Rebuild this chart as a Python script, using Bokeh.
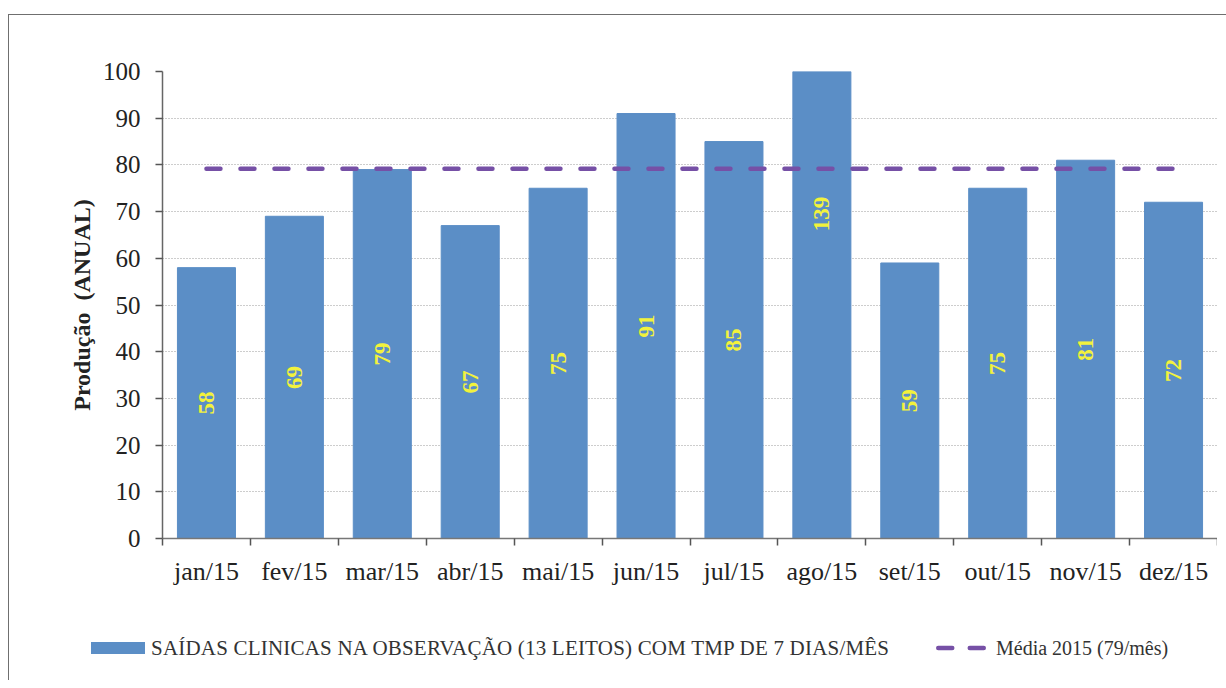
from bokeh.plotting import figure
from bokeh.layouts import column
from bokeh.models import (Range1d, FixedTicker, SingleIntervalTicker, ColumnDataSource, Div)
from bokeh.core.properties import value
from bokeh.embed import file_html
from bokeh.resources import INLINE
import math

# ---- data ----
months = ["jan/15", "fev/15", "mar/15", "abr/15", "mai/15", "jun/15",
          "jul/15", "ago/15", "set/15", "out/15", "nov/15", "dez/15"]
saidas = [58, 69, 79, 67, 75, 91, 85, 139, 59, 75, 81, 72]
media_label = "Média 2015 (79/mês)"
bar_label = "SAÍDAS CLINICAS NA OBSERVAÇÃO (13 LEITOS) COM TMP DE 7 DIAS/MÊS"
y_title = "Produção\u00a0 (ANUAL)"

idx = list(range(len(months)))
media = sum(saidas) / len(saidas)

SERIF = "Liberation Serif"
BAR = "#5b8ec6"
LINE = "#7650a6"
W = 1208

src = ColumnDataSource(dict(x=idx, top=saidas, ly=[v / 2 for v in saidas],
                            txt=[str(v) for v in saidas]))

p = figure(width=W, height=585, output_backend="svg", toolbar_location=None,
           x_range=Range1d(-0.5, len(months) - 0.5), y_range=Range1d(0, 100),
           min_border_left=153, min_border_right=0, min_border_top=56,
           min_border_bottom=62)
p.outline_line_color = None
p.background_fill_color = "white"
p.border_fill_color = "white"

bars = p.vbar(x="x", top="top", width=0.66, source=src, fill_color=BAR,
              line_color=BAR, line_width=1)
p.text(x="x", y="ly", text="txt", source=src, angle=math.pi / 2,
       text_align="center", text_baseline="middle",
       text_font=value(SERIF), text_font_style="bold", text_font_size="23px",
       text_color="#f2f23c")
p.line(x=[idx[0], idx[-1]], y=[media, media], line_color=LINE, line_width=4.5,
       line_dash="14 20", line_cap="round")

# axes
xa = p.xaxis[0]
xa.ticker = FixedTicker(ticks=idx, minor_ticks=[i - 0.5 for i in range(len(months) + 1)])
xa.major_label_overrides = {i: m for i, m in zip(idx, months)}
xa.major_tick_line_color = None
xa.minor_tick_in = 0
xa.minor_tick_out = 7
xa.minor_tick_line_color = "#555"
xa.minor_tick_line_width = 1.5
xa.axis_line_color = "#777"
xa.axis_line_width = 1.5
xa.major_label_text_font = SERIF
xa.major_label_text_font_size = "26px"
xa.major_label_text_color = "#222"
xa.major_label_standoff = 11

ya = p.yaxis[0]
ya.ticker = SingleIntervalTicker(interval=10, num_minor_ticks=0)
ya.major_tick_in = 0
ya.major_tick_out = 7
ya.major_tick_line_color = "#555"
ya.major_tick_line_width = 1.5
ya.minor_tick_line_color = None
ya.axis_line_color = "#666"
ya.axis_line_width = 1.5
ya.major_label_text_font = SERIF
ya.major_label_text_font_size = "25px"
ya.major_label_text_color = "#222"
ya.major_label_standoff = 15
ya.axis_label = y_title
ya.axis_label_text_font = SERIF
ya.axis_label_text_font_style = "bold"
ya.axis_label_text_font_size = "24px"
ya.axis_label_text_color = "#222"
ya.axis_label_standoff = 5

p.xgrid.grid_line_color = None
p.ygrid.grid_line_color = "#9a9a9a"
p.ygrid.grid_line_dash = "1 2"
p.ygrid.grid_line_width = 1

# legend strip below the chart (HTML, real text)
legend_html = f"""
<div style="position:relative;width:{W}px;height:70px;font-family:'{SERIF}', serif;color:#333;">
  <div style="position:absolute;left:77px;top:37px;width:54px;height:12px;background:{BAR};"></div>
  <div style="position:absolute;left:137px;top:30px;line-height:26px;font-size:21px;white-space:nowrap;letter-spacing:0.2px;">{bar_label}</div>
  <svg style="position:absolute;left:922px;top:37px;" width="54" height="12">
    <line x1="2.25" y1="6" x2="50" y2="6" stroke="{LINE}" stroke-width="4.5"
          stroke-dasharray="14 17.5" stroke-linecap="round"/>
  </svg>
  <div style="position:absolute;left:982px;top:30px;line-height:26px;font-size:20px;white-space:nowrap;">{media_label}</div>
</div>
"""
leg = Div(text=legend_html, width=W, height=70)

layout = column(p, leg, spacing=0)
layout.styles = {"margin-top": "14px", "margin-left": "8px",
                 "border-left": "1px solid #6f6f6f", "border-top": "1px solid #6f6f6f"}

open("out.html", "w").write(file_html(layout, INLINE))
